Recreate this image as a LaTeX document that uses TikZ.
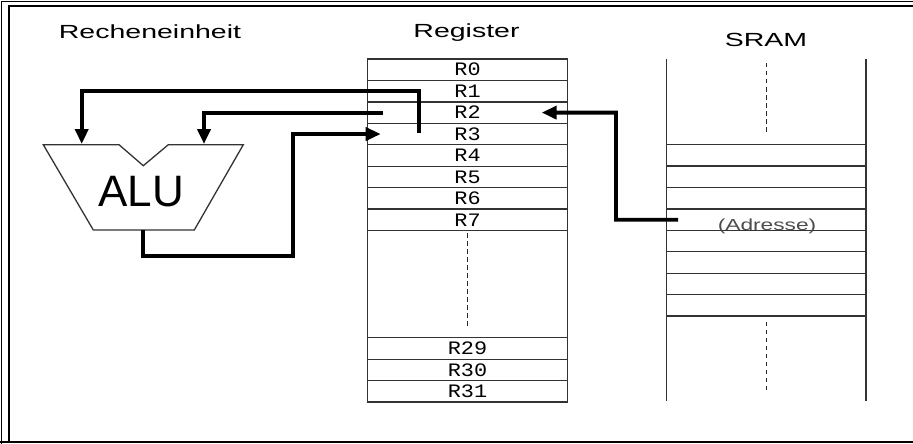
\documentclass[tikz,border=0pt]{standalone}
\usepackage{fontspec}
\setmainfont{Liberation Sans}
\newfontfamily\cellfont{Liberation Mono}
\usepackage{graphicx}
\usetikzlibrary{arrows.meta,positioning}
\newcommand{\wide}[2]{\scalebox{#1}[1]{#2}}

\tikzset{
  regcell/.style={draw=black!80, line width=1.3pt, minimum width=200pt, minimum height=21.44pt,
    inner sep=0pt, outer sep=0pt, text height=12.5pt, text depth=0pt,
    font=\cellfont\fontsize{19}{20}\selectfont},
  sramcell/.style={draw=black!80, line width=1.3pt, minimum width=199.3pt, minimum height=21.42pt,
    inner sep=0pt, outer sep=0pt},
  heading/.style={anchor=base, inner sep=0pt, font=\fontsize{19}{22}\selectfont},
  bus/.style={line width=3.8pt, -{Triangle[length=15pt,width=13pt]}},
  thinline/.style={draw=black!80, line width=1.3pt},
  dots/.style={black!85, line width=1.4pt, dash pattern=on 4.5pt off 3.5pt}
}

\begin{document}
\begin{tikzpicture}[x=1pt,y=-1pt]
  \useasboundingbox (0,0) rectangle (913,444);
  % frame
  \draw[line width=1.6pt] (1.5,444) -- (1.5,1.5) -- (913,1.5);
  \draw[line width=1.3pt] (9,441) -- (9,6) -- (913,6);
  \draw[line width=2pt] (0,441.5) -- (913,441.5);

  \node[heading] (tcalc) at (150,38.3) {\wide{1.5}{Recheneinheit}};
  \node[heading] (treg) at (466.5,38) {\wide{1.5}{Register}};
  \node[heading] (tsram) at (766,46.5) {\wide{1.5}{SRAM}};

  % ALU
  \draw[thinline] (43.3,144.7) -- (119,144.7) -- (143.3,165.7) -- (168.3,144.7) -- (243.3,144.7)
    -- (194.3,230) -- (93.3,230) -- cycle;
  \node[anchor=base, inner sep=0pt, font=\fontsize{44}{48}\selectfont] (alu) at (141,206.7) {ALU};
  \coordinate (ain1) at (81.7,144);
  \coordinate (ain2) at (204,144);
  \coordinate (aout) at (143.3,230);
  \coordinate (abend) at (292.7,256);

  % register file
  \node[regcell, anchor=north] (r0) at (467.5,59) {\wide{1.15}{R0}};
  \node[regcell, below=0pt of r0] (r1) {\wide{1.15}{R1}};
  \node[regcell, below=0pt of r1] (r2) {\wide{1.15}{R2}};
  \node[regcell, below=0pt of r2] (r3) {\wide{1.15}{R3}};
  \node[regcell, below=0pt of r3] (r4) {\wide{1.15}{R4}};
  \node[regcell, below=0pt of r4] (r5) {\wide{1.15}{R5}};
  \node[regcell, below=0pt of r5] (r6) {\wide{1.15}{R6}};
  \node[regcell, below=0pt of r6] (r7) {\wide{1.15}{R7}};
  \node[regcell, below=0pt of r7, minimum height=107.2pt] (rgap) {};
  \node[regcell, below=0pt of rgap] (r29) {\wide{1.15}{R29}};
  \node[regcell, below=0pt of r29] (r30) {\wide{1.15}{R30}};
  \node[regcell, below=0pt of r30] (r31) {\wide{1.15}{R31}};
  \draw[dots] ([yshift=-2.5pt]rgap.north) -- ([yshift=11pt]rgap.south);

  % SRAM
  \draw[thinline] (666.7,59.3) -- (666.7,400.7);
  \draw[thinline] (866,59.3) -- (866,400.7);
  \node[sramcell, anchor=north] (s0) at (766.35,144.7) {};
  \node[sramcell, below=0pt of s0] (s1) {};
  \node[sramcell, below=0pt of s1] (s2) {};
  \node[sramcell, below=0pt of s2] (s3) {};
  \node[sramcell, below=0pt of s3] (s4) {};
  \node[sramcell, below=0pt of s4] (s5) {};
  \node[sramcell, below=0pt of s5] (s6) {};
  \node[sramcell, below=0pt of s6] (s7) {};
  \draw[dots] ([yshift=81.7pt]s0.north) -- ([yshift=11.7pt]s0.north);
  \draw[dots] ([yshift=-5.7pt]s7.south) -- ([yshift=-74pt]s7.south);
  \node[anchor=base, inner sep=0pt, text=black!70, font=\fontsize{16}{18}\selectfont] (adr)
    at ([xshift=0.7pt]s3.south) {\wide{1.42}{(Adresse)}};
  \coordinate (sbend) at (616,219.7);

  % data paths
  \draw[bus] ([xshift=51.5pt,yshift=1.3pt]r3.west) |- (ain1 |- r1) -- (ain1);
  \draw[bus] ([xshift=15.5pt]r2.west) -- (ain2 |- r2) -- (ain2);
  \draw[bus] (aout) |- (abend) |- ([xshift=13.2pt]r3.west);
  \draw[bus] ([xshift=11.3pt]s3.west) -- (sbend) |- ([xshift=-25.8pt]r2.east);
\end{tikzpicture}
\end{document}
